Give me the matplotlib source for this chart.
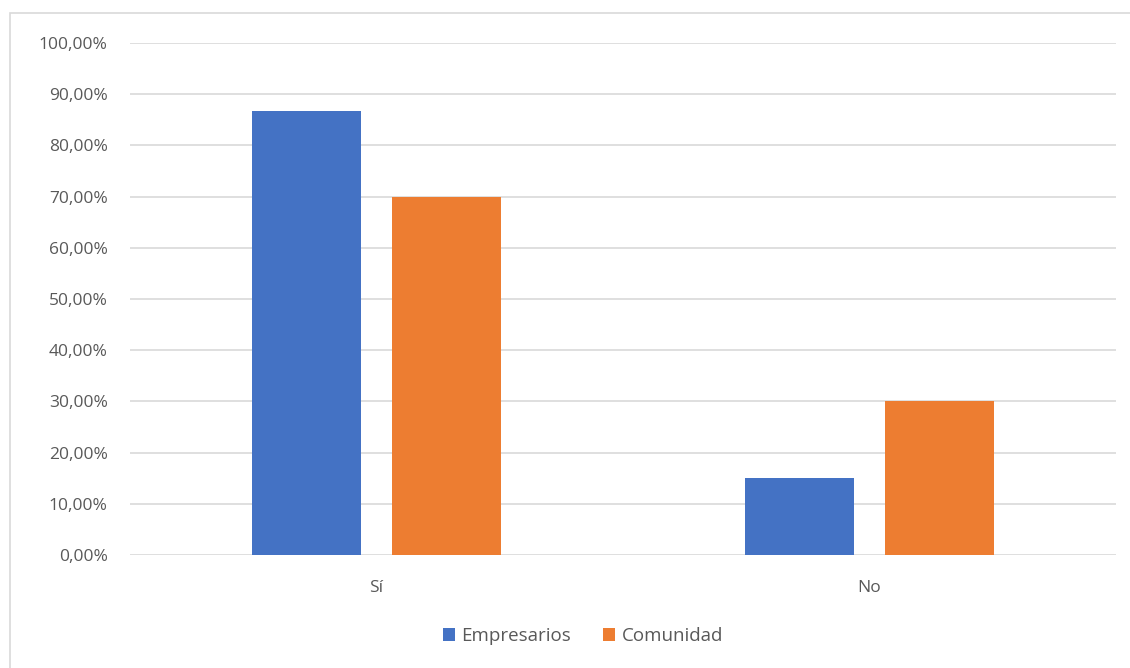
import matplotlib
matplotlib.use("Agg")
import matplotlib.pyplot as plt
import numpy as np
from matplotlib.patches import Rectangle
from matplotlib.ticker import FuncFormatter

categories = ["Sí", "No"]
series_names = ["Empresarios", "Comunidad"]
empresarios = [86.67, 15.0]
comunidad = [70.0, 30.0]
yticks = [0, 10, 20, 30, 40, 50, 60, 70, 80, 90, 100]
colors = ["#4472C4", "#ED7D31"]

plt.rcParams['font.family'] = ['Open Sans', 'DejaVu Sans']

W, H = 1130, 668
fig = plt.figure(figsize=(W / 100, H / 100), dpi=100)
fig.patch.set_facecolor("white")

# chart frame
fig.patches.append(Rectangle((10 / W, -0.05), 1.2, 1 - 13 / H + 0.05,
                             transform=fig.transFigure, fill=False,
                             edgecolor="#D9D9D9", linewidth=1.2))

ax = fig.add_axes([130 / W, 1 - 555 / H, (1116 - 130) / W, (555 - 43) / H])
x = np.arange(len(categories))
bw = 0.223
gap = 0.061
off = (bw + gap) / 2
ax.bar(x - off, empresarios, bw, color=colors[0], label=series_names[0], zorder=3)
ax.bar(x + off, comunidad, bw, color=colors[1], label=series_names[1], zorder=3)

ax.set_xlim(-0.5, len(categories) - 0.5)
ax.set_ylim(0, 100)
ax.set_yticks(yticks)
ax.yaxis.set_major_formatter(FuncFormatter(lambda v, p: f"{v:.2f}".replace(".", ",") + "%"))
ax.set_xticks(x)
ax.set_xticklabels(categories)
ax.grid(axis="y", color="#D9D9D9", linewidth=1.2, zorder=0)
for s in ax.spines.values():
    s.set_visible(False)
ax.tick_params(axis="both", length=0, colors="#595959", labelsize=12.5)
ax.tick_params(axis="y", pad=16)
ax.tick_params(axis="x", pad=18)

leg = fig.legend(loc="center", bbox_to_anchor=(583 / W, 1 - 636 / H), ncol=2,
                 frameon=False, fontsize=13.5, handlelength=0.65, handleheight=0.65,
                 handletextpad=0.35, columnspacing=1.7)
for t in leg.get_texts():
    t.set_color("#595959")

fig.savefig("out.png", dpi=100)
